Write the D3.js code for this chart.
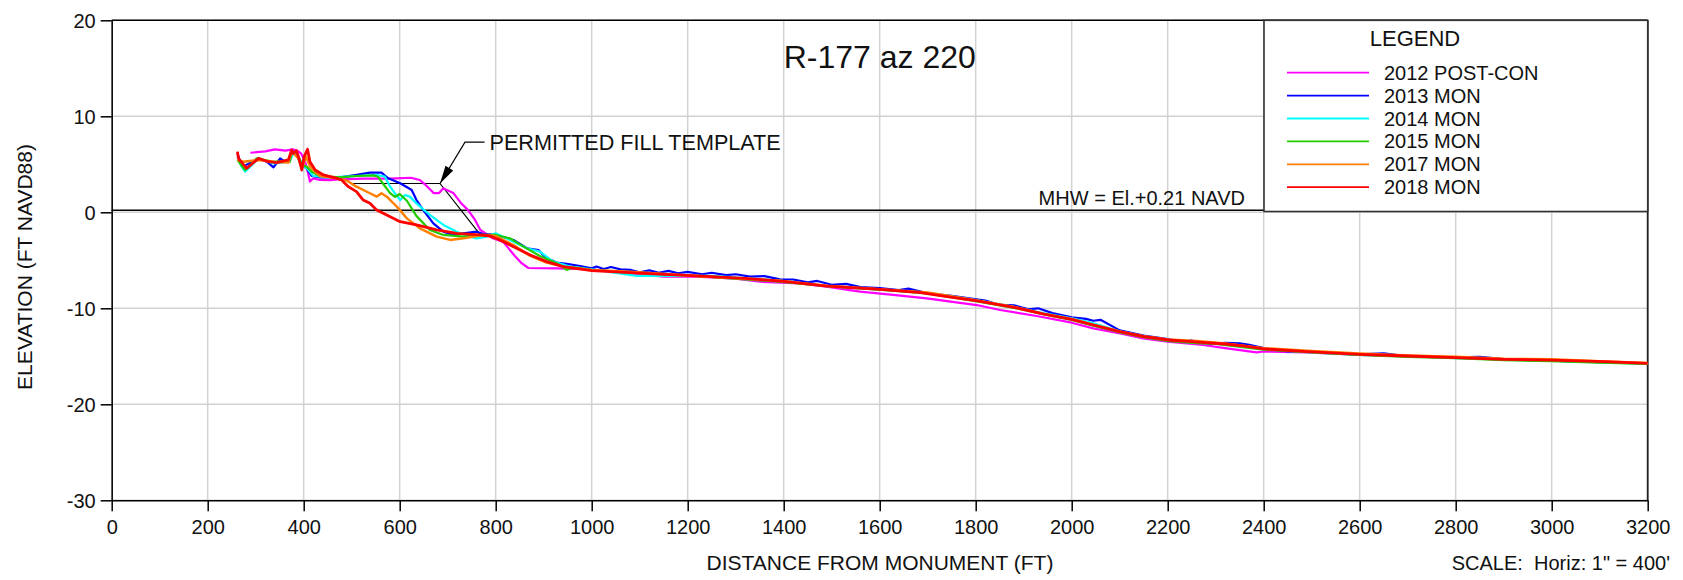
<!DOCTYPE html>
<html><head><meta charset="utf-8">
<script src="https://cdn.jsdelivr.net/npm/d3@7/dist/d3.min.js"></script>
<style>
html,body{margin:0;padding:0;background:#fff;}
svg{display:block;font-family:"Liberation Sans",Arial,sans-serif;}
text{white-space:pre;}
</style></head>
<body>
<svg id="chart" width="1683" height="580"></svg>
<script>
// ---------- DATA ----------
const title = "R-177 az 220";
const xTicks = [0,200,400,600,800,1000,1200,1400,1600,1800,2000,2200,2400,2600,2800,3000,3200];
const yTicks = [20,10,0,-10,-20,-30];
const seriesNames = ["2012 POST-CON","2013 MON","2014 MON","2015 MON","2017 MON","2018 MON"];
const seriesColors = ["#ff00ff","#0000ff","#00ffff","#22cc00","#ff8000","#ff0000"];
const mhwElev = 0.21;
const templatePts = [[500,3],[684,3],[769,-2.4]];

const s2012 = [[289,6.2],[320,6.35],[340,6.55],[362,6.42],[377,6.56],[387,6.4],[395,6.1],[403,5.27],[408,4.3],[413,3.2],[420,3.54],[434,3.37],[455,3.35],[476,3.44],[524,3.5],[580,3.5],[623,3.6],[642,3.36],[655,2.8],[663,2.4],[671,2.0],[682,2.0],[691,2.5],[697,2.36],[712,2.0],[727,1.0],[742,0.25],[757,-0.8],[768,-1.84],[794,-2.7],[816,-3.1],[839,-4.5],[854,-5.3],[868,-5.8],[928,-5.85],[1000,-5.94],[1080,-6.36],[1150,-6.7],[1220,-6.7],[1300,-6.9],[1351,-7.23],[1434,-7.4],[1489,-7.75],[1559,-8.27],[1628,-8.61],[1698,-8.96],[1802,-9.66],[1851,-10.18],[1927,-10.8],[2000,-11.5],[2045,-12.09],[2101,-12.61],[2149,-13.13],[2200,-13.47],[2274,-13.82],[2323,-14.17],[2385,-14.6],[2400,-14.5],[2489,-14.6],[2600,-14.85],[2700,-15.0],[2800,-15.15],[2900,-15.35],[3000,-15.45],[3100,-15.6],[3200,-15.75]];

const s2013 = [[262,6.14],[268,5.2],[274,4.76],[290,5.2],[306,5.62],[323,5.27],[337,4.68],[351,5.62],[361,5.27],[371,5.45],[377,6.32],[385,6.14],[391,5.3],[396,4.93],[406,4.58],[417,3.78],[434,3.64],[476,3.64],[510,3.89],[538,4.13],[562,4.13],[576,3.54],[601,3.02],[625,2.32],[635,1.28],[649,0.24],[670,-1.15],[691,-2.02],[712,-2.36],[733,-2.19],[760,-2.02],[774,-2.26],[800,-2.36],[837,-2.88],[865,-3.75],[889,-3.93],[906,-4.8],[927,-5.24],[948,-5.38],[976,-5.59],[1000,-5.84],[1010,-5.65],[1025,-5.9],[1040,-5.7],[1060,-5.95],[1080,-6.0],[1100,-6.25],[1120,-6.05],[1140,-6.3],[1160,-6.1],[1180,-6.35],[1200,-6.2],[1230,-6.45],[1250,-6.3],[1280,-6.55],[1300,-6.45],[1330,-6.7],[1360,-6.65],[1392,-6.98],[1420,-7.0],[1450,-7.3],[1470,-7.15],[1500,-7.55],[1530,-7.45],[1560,-7.8],[1600,-7.9],[1640,-8.1],[1660,-7.95],[1700,-8.45],[1750,-8.7],[1790,-9.0],[1820,-9.2],[1850,-9.65],[1880,-9.7],[1910,-10.1],[1930,-10.0],[1960,-10.5],[2000,-10.95],[2030,-11.1],[2045,-11.3],[2060,-11.2],[2100,-12.3],[2150,-12.85],[2200,-13.2],[2230,-13.5],[2250,-13.35],[2290,-13.7],[2320,-13.6],[2350,-13.65],[2370,-13.8],[2400,-14.15],[2450,-14.5],[2490,-14.45],[2550,-14.7],[2600,-14.8],[2650,-14.7],[2700,-15.0],[2800,-15.1],[2850,-15.05],[2900,-15.3],[3000,-15.45],[3050,-15.55],[3100,-15.6],[3150,-15.6],[3200,-15.75]];

const s2014 = [[262,5.8],[270,4.8],[278,4.23],[306,5.62],[337,5.1],[371,5.27],[378,6.14],[389,5.8],[398,4.93],[410,4.41],[420,3.78],[455,3.64],[510,3.78],[552,3.89],[569,3.72],[580,2.67],[590,1.98],[601,1.28],[611,1.8],[621,1.63],[635,0.93],[663,-0.28],[691,-1.32],[719,-2.02],[746,-2.54],[760,-2.71],[781,-2.54],[800,-2.19],[837,-3.06],[865,-3.75],[892,-4.1],[920,-5.14],[955,-5.66],[1000,-5.94],[1094,-6.63],[1149,-6.63],[1253,-6.63],[1392,-7.12],[1490,-7.7],[1600,-8.05],[1700,-8.4],[1800,-9.15],[1880,-9.85],[1940,-10.5],[2000,-11.05],[2045,-11.55],[2100,-12.4],[2150,-12.95],[2200,-13.3],[2260,-13.5],[2320,-13.75],[2400,-14.25],[2500,-14.6],[2600,-14.85],[2700,-14.95],[2800,-15.2],[2900,-15.3],[3000,-15.45],[3100,-15.6],[3200,-15.8]];

const s2015 = [[262,5.45],[278,4.41],[302,5.62],[337,5.27],[371,5.27],[375,6.14],[385,6.32],[396,4.93],[406,4.76],[417,4.23],[434,3.78],[476,3.64],[510,3.78],[545,3.85],[555,3.7],[565,3.0],[580,2.0],[590,1.6],[600,1.9],[615,1.2],[635,-0.4],[663,-1.84],[691,-2.36],[733,-2.54],[774,-2.36],[800,-2.36],[830,-2.71],[858,-3.58],[892,-4.55],[927,-5.31],[948,-6.0],[962,-5.73],[1000,-6.0],[1080,-6.29],[1184,-6.53],[1392,-7.22],[1490,-7.7],[1600,-8.05],[1700,-8.45],[1800,-9.25],[1880,-9.95],[1940,-10.6],[2000,-11.2],[2045,-11.8],[2100,-12.5],[2150,-13.0],[2200,-13.4],[2250,-13.6],[2300,-13.7],[2400,-14.3],[2500,-14.6],[2600,-14.85],[2700,-15.05],[2800,-15.2],[2900,-15.4],[3000,-15.5],[3100,-15.65],[3200,-15.8]];

const s2017 = [[262,5.45],[274,5.27],[306,5.45],[337,5.27],[368,5.17],[375,6.32],[389,5.62],[396,4.58],[405,5.8],[413,4.76],[434,3.78],[469,3.54],[490,3.3],[510,2.67],[538,1.98],[552,1.63],[562,1.98],[573,1.63],[594,0.59],[615,-0.63],[642,-1.67],[677,-2.54],[705,-2.88],[733,-2.71],[774,-2.36],[800,-2.47],[837,-3.41],[872,-4.55],[906,-5.24],[948,-5.73],[1000,-6.0],[1080,-6.18],[1219,-6.63],[1392,-7.12],[1490,-7.65],[1600,-8.0],[1700,-8.35],[1800,-9.15],[1880,-9.85],[1940,-10.55],[2000,-11.1],[2045,-11.7],[2100,-12.4],[2150,-12.9],[2200,-13.25],[2260,-13.4],[2320,-13.65],[2400,-14.15],[2500,-14.45],[2600,-14.7],[2700,-14.9],[2800,-15.05],[2900,-15.25],[3000,-15.3],[3100,-15.5],[3200,-15.7]];

const s2018 = [[262,6.32],[264,5.62],[281,4.58],[306,5.62],[326,5.27],[344,5.17],[368,5.45],[375,6.49],[378,6.14],[385,6.42],[391,5.45],[396,4.41],[401,5.8],[408,6.56],[413,5.27],[424,4.41],[441,3.89],[462,3.64],[479,3.37],[493,2.67],[510,2.15],[524,1.28],[538,0.93],[552,0.24],[573,-0.28],[601,-0.98],[635,-1.32],[677,-1.84],[719,-2.19],[767,-2.36],[788,-2.47],[809,-2.88],[837,-3.58],[872,-4.45],[906,-5.14],[941,-5.66],[1000,-6.08],[1080,-6.29],[1150,-6.46],[1220,-6.63],[1320,-6.88],[1400,-7.2],[1490,-7.68],[1600,-8.02],[1685,-8.37],[1740,-8.79],[1800,-9.2],[1880,-9.9],[1940,-10.59],[2000,-11.15],[2045,-11.74],[2100,-12.43],[2150,-12.95],[2200,-13.3],[2250,-13.47],[2320,-13.72],[2360,-13.95],[2400,-14.22],[2490,-14.52],[2600,-14.79],[2700,-14.97],[2800,-15.14],[2900,-15.32],[3000,-15.39],[3110,-15.56],[3200,-15.73]];

const seriesData = [s2012,s2013,s2014,s2015,s2017,s2018];

// ---------- LAYOUT ----------
const svg = d3.select("#chart");
const L = 111.7, R = 1647.7, T = 20.3, B = 500.3;
const x = d3.scaleLinear().domain([0,3200]).range([L,R]);
const y = d3.scaleLinear().domain([-30,20]).range([B,T]);
const FONT = "'Liberation Sans', Arial, sans-serif";
const fmt = d => String(d);

// grid
const grid = svg.append("g");
grid.selectAll("line.v").data(xTicks).enter().append("line")
  .attr("x1",d=>x(d)).attr("x2",d=>x(d)).attr("y1",T).attr("y2",B)
  .attr("stroke","#d2d2d2").attr("stroke-width",1.5);
grid.selectAll("line.h").data(yTicks).enter().append("line")
  .attr("x1",L).attr("x2",R).attr("y1",d=>y(d)).attr("y2",d=>y(d))
  .attr("stroke","#d2d2d2").attr("stroke-width",1.5);

// axes
const xAxis = d3.axisBottom(x).tickValues(xTicks).tickFormat(fmt).tickSize(11).tickSizeOuter(0).tickPadding(6);
const gx = svg.append("g").attr("transform",`translate(0,${B})`).call(xAxis);
gx.select(".domain").attr("stroke","#000").attr("stroke-width",1.5);
gx.selectAll(".tick line").attr("stroke","#000").attr("stroke-width",1.5);
gx.selectAll(".tick text").attr("font-size",20).attr("font-family",FONT).attr("fill","#111").attr("dy","0.85em");

const yAxis = d3.axisLeft(y).tickValues(yTicks).tickFormat(fmt).tickSize(11).tickSizeOuter(0).tickPadding(5);
const gy = svg.append("g").attr("transform",`translate(${L},0)`).call(yAxis);
gy.select(".domain").attr("stroke","#000").attr("stroke-width",1.5);
gy.selectAll(".tick line").attr("stroke","#000").attr("stroke-width",1.5);
gy.selectAll(".tick text").attr("font-size",20).attr("font-family",FONT).attr("fill","#111").attr("dy","0.35em");

// frame top/right
svg.append("line").attr("x1",L).attr("x2",R).attr("y1",T).attr("y2",T).attr("stroke","#000").attr("stroke-width",1.5);
svg.append("line").attr("x1",R).attr("x2",R).attr("y1",T).attr("y2",B).attr("stroke","#222").attr("stroke-width",1.8);

// MHW line
svg.append("line").attr("x1",L).attr("x2",R).attr("y1",y(mhwElev)).attr("y2",y(mhwElev))
  .attr("stroke","#000").attr("stroke-width",1.6);
svg.append("text").attr("x",x(2361)).attr("y",y(mhwElev)-5).attr("text-anchor","end")
  .attr("font-size",20).attr("font-family",FONT).attr("fill","#111").text("MHW = El.+0.21 NAVD");

// template
const line = d3.line().x(d=>x(d[0])).y(d=>y(d[1]));
svg.append("path").attr("d",line(templatePts)).attr("fill","none").attr("stroke","#000").attr("stroke-width",1.2);

// series
const widths = [2.2,2.2,2.2,2.2,2.4,2.8];
seriesData.forEach((s,i)=>{
  svg.append("path").attr("d",line(s)).attr("fill","none")
    .attr("stroke",seriesColors[i]).attr("stroke-width",widths[i]).attr("stroke-linejoin","round");
});

// annotation
const tip = [x(684), y(3)];
const elbow = [x(736), y(7.3)];
const textStart = [x(783), y(7.3)];
svg.append("polyline").attr("points",[[textStart[0]-3,textStart[1]],elbow,tip].map(p=>p.join(",")).join(" "))
  .attr("fill","none").attr("stroke","#000").attr("stroke-width",1.2);
{
  const dx = elbow[0]-tip[0], dy = elbow[1]-tip[1], len = Math.hypot(dx,dy);
  const ux = dx/len, uy = dy/len, hl = 18, hw = 4.5;
  const bx = tip[0]+ux*hl, by = tip[1]+uy*hl;
  svg.append("path").attr("d",`M${tip[0]},${tip[1]}L${bx-uy*hw},${by+ux*hw}L${bx+uy*hw},${by-ux*hw}Z`).attr("fill","#000");
}
svg.append("text").attr("x",textStart[0]+2).attr("y",textStart[1]+8)
  .attr("font-size",21.6).attr("font-family",FONT).attr("fill","#111").text("PERMITTED FILL TEMPLATE");

// title
svg.append("text").attr("x",x(1400)).attr("y",68.3).attr("font-size",32).attr("font-family",FONT).attr("fill","#111").text(title);

// legend
const lg = svg.append("g");
lg.append("rect").attr("x",1264).attr("y",T).attr("width",R-1264).attr("height",211.5-T)
  .attr("fill","#fff").attr("stroke","#333").attr("stroke-width",1.6);
lg.append("text").attr("x",1415).attr("y",45.7).attr("text-anchor","middle").attr("font-size",22).attr("font-family",FONT).attr("fill","#111").text("LEGEND");
seriesNames.forEach((n,i)=>{
  const yy = 72.7 + i*22.9;
  lg.append("line").attr("x1",1287).attr("x2",1369).attr("y1",yy).attr("y2",yy).attr("stroke",seriesColors[i]).attr("stroke-width",1.8);
  lg.append("text").attr("x",1384).attr("y",yy+7).attr("font-size",20).attr("font-family",FONT).attr("fill","#111").text(n);
});

// axis titles
svg.append("text").attr("transform",`translate(32,267) rotate(-90)`).attr("text-anchor","middle")
  .attr("font-size",21).attr("font-family",FONT).attr("fill","#111").text("ELEVATION (FT NAVD88)");
svg.append("text").attr("x",880).attr("y",570).attr("text-anchor","middle")
  .attr("font-size",21).attr("font-family",FONT).attr("fill","#111").text("DISTANCE FROM MONUMENT (FT)");
svg.append("text").attr("x",1670).attr("y",570).attr("text-anchor","end").attr("xml:space","preserve")
  .attr("font-size",20).attr("font-family",FONT).attr("fill","#111").text("SCALE:  Horiz: 1\" = 400'");
</script>
</body></html>
